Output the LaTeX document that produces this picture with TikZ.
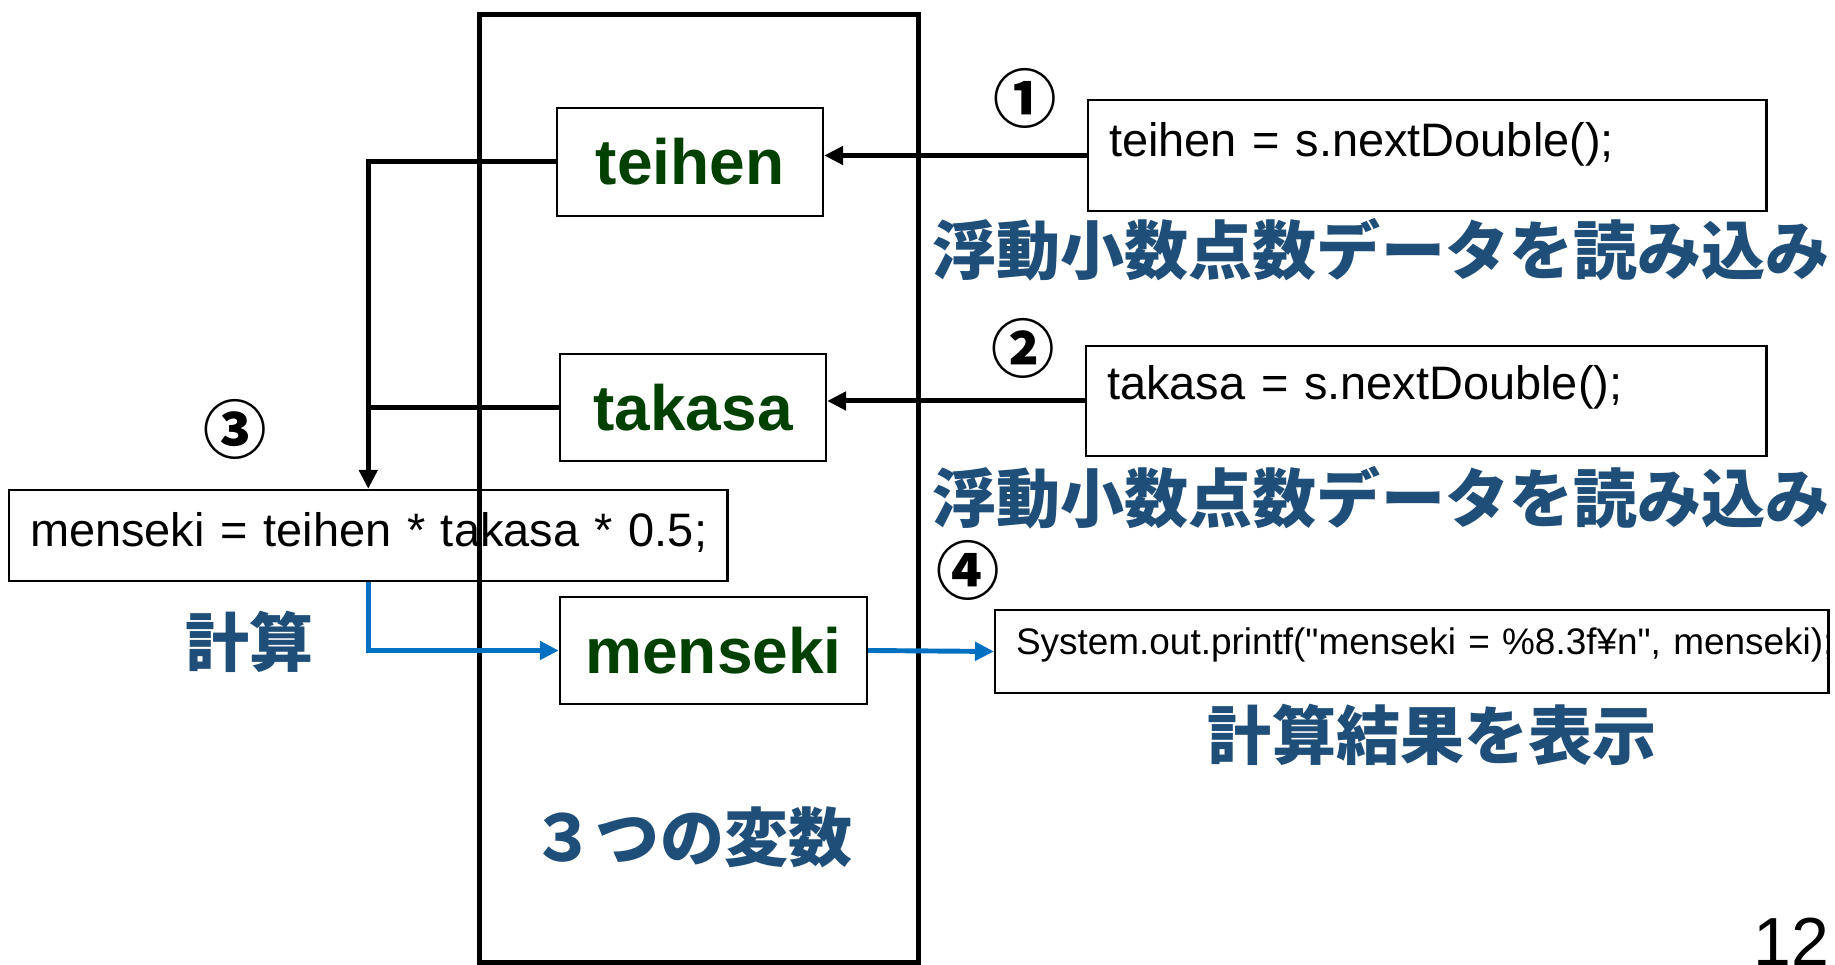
\documentclass[tikz,border=0pt]{standalone}
\usepackage{fontspec}
\setmainfont{Liberation Sans}
\newfontfamily\codefont{Liberation Sans}
\newfontfamily\cjk{Noto Sans CJK JP}
\usetikzlibrary{arrows.meta}
\definecolor{vargreen}{RGB}{0,64,0}
\definecolor{labelblue}{RGB}{31,78,121}
\definecolor{flowblue}{RGB}{0,112,192}
\tikzset{
	varbox/.style={draw, line width=0.6pt, inner sep=0pt, text=vargreen, font=\fontsize{18.2}{20}\selectfont\bfseries},
	codebox/.style={draw, line width=0.6pt, inner ysep=0pt, inner xsep=0.21cm, align=left, font=\codefont\fontsize{13.35}{16}\selectfont},
	jplabel/.style={inner sep=0pt, text=labelblue, font=\cjk\bfseries\fontsize{18.2}{20}\selectfont},
	stepnum/.style={inner sep=0pt, font=\cjk\bfseries\fontsize{18}{20}\selectfont},
	flow/.style={line width=1.42pt, -{Triangle[length=0.19cm,width=0.18cm]}},
}
\begin{document}
\begin{tikzpicture}[x=0.01cm, y=-0.01cm]
	\useasboundingbox (0,0) rectangle (1835,965);
	% Variaveis
	\node[varbox, minimum width=2.66cm, minimum height=1.08cm] (teihen) at (690,162) {teihen};
	\node[varbox, minimum width=2.66cm, minimum height=1.07cm] (takasa) at (693,407.5) {takasa};
	\node[varbox, minimum width=3.07cm, minimum height=1.07cm] (menseki) at (713.5,650.5) {menseki};
	\node[jplabel] (threevars) at (692,837) {３つの変数};
	\draw[line width=1.42pt] (479.5,15) rectangle (918,963);		% Caixa das variaveis
	
	% Leitura
	\node[codebox, text width=6.36cm, text height=0.57cm, text depth=0.54cm, anchor=base west] (readt) at (1087,157) {\mbox{teihen = s.nextDouble();}};
	\node[codebox, text width=6.38cm, text height=0.54cm, text depth=0.56cm, anchor=base west] (readh) at (1085,400) {\mbox{takasa = s.nextDouble();}};
	\node[stepnum] (one) at (1025,98.5) {①};
	\node[stepnum] (two) at (1023,348.5) {②};
	\node[jplabel] (readlbl1) at (1381,250) {浮動小数点数データを読み込み};
	\node[jplabel] (readlbl2) at (1381,497.5) {浮動小数点数データを読み込み};
	
	% Calculo
	\node[codebox, text width=6.76cm, text height=0.57cm, text depth=0.34cm, anchor=base west] (calc) at (8,547) {\mbox{menseki = teihen * takasa * 0.5;}};
	\node[stepnum] (three) at (235.5,429) {③};
	\node[jplabel] (calclbl) at (249.5,641.5) {計算};
	
	% Saida
	\node[codebox, text width=7.91cm, text height=0.45cm, text depth=0.38cm, anchor=base west, font=\codefont\fontsize{10.5}{12}\selectfont] (print) at (994,655) {\mbox{System.out.printf("menseki = \%8.3f¥n", menseki);}};
	\node[stepnum] (four) at (968.5,570.5) {④};
	\node[jplabel] (printlbl) at (1432,735) {計算結果を表示};
	\node[inner sep=0pt, anchor=base east, font=\fontsize{19.35}{22}\selectfont] (page) at (1830,966) {12};
	
	% Setas
	\draw[flow] (readt.west) -- (readt.west -| teihen.east);
	\draw[flow] (readh.west) -- (readh.west -| takasa.east);
	\draw[flow] (teihen.west) -| (calc.north);
	\draw[line width=1.42pt] (takasa.west) -- (takasa.west -| calc.north);
	\draw[flow, flowblue, line width=1.4pt] (calc.south) |- (menseki.west);
	\draw[flow, flowblue, line width=1.4pt] (menseki.east) -- (print.west);
\end{tikzpicture}
\end{document}
